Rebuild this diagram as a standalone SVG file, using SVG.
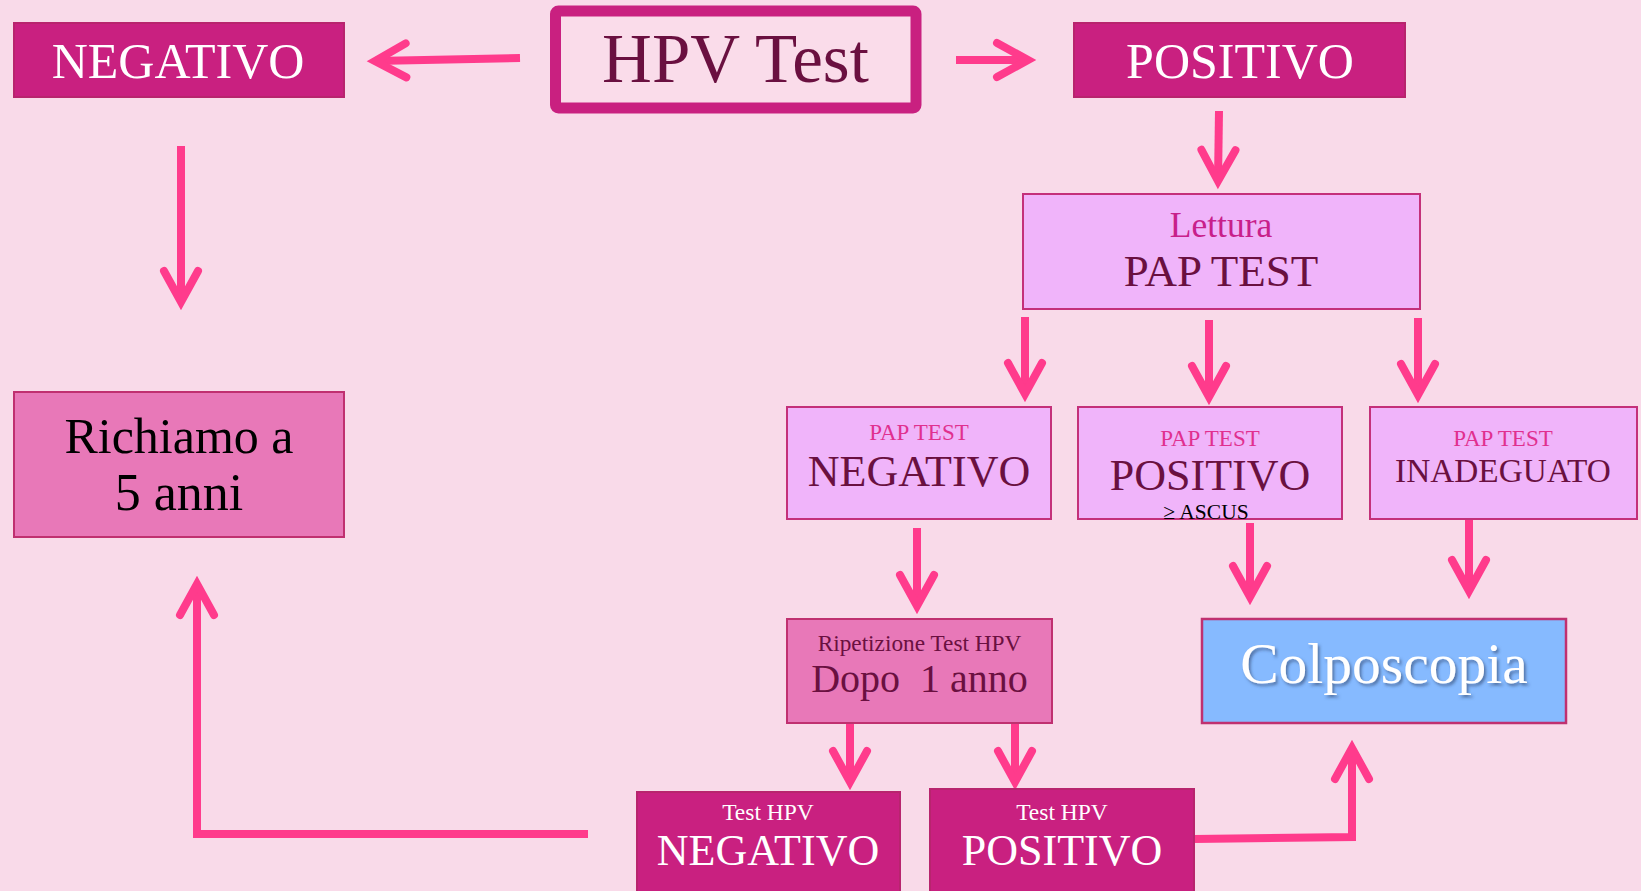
<svg xmlns="http://www.w3.org/2000/svg" width="1641" height="891" viewBox="0 0 1641 891">
<style>
text { font-family: "Liberation Serif", "Times New Roman", serif; text-anchor: middle; }
.dark { fill: #C92080; stroke: #B8246E; stroke-width: 2; }
.lilac { fill: #F0B4FA; stroke: #C4307A; stroke-width: 2; }
.rose { fill: #E878B8; stroke: #C03070; stroke-width: 2; }
.blue { fill: #86BAFF; stroke: #C03070; stroke-width: 2.5; }
.w { fill: #FFFFFF; }
.m { fill: #6A1040; }
.k { fill: #000000; }
.p1 { fill: #C8208A; }
.p2 { fill: #E0308F; }
.conn { fill: none; stroke: #FF3B8C; stroke-width: 8; marker-end: url(#ah); }
</style>
<defs>
<marker id="ah" markerUnits="userSpaceOnUse" viewBox="-40 -25 50 50" refX="0" refY="0" markerWidth="50" markerHeight="50" orient="auto" overflow="visible">
<path d="M-31,-17 L0,0 L-31,17" fill="none" stroke="#FF3B8C" stroke-width="8" stroke-linecap="round" stroke-linejoin="miter" stroke-miterlimit="10"/>
</marker>
<filter id="sh" x="-10%" y="-20%" width="130%" height="150%">
<feDropShadow dx="2" dy="2.5" stdDeviation="1.5" flood-color="#2A3A60" flood-opacity="0.55"/>
</filter>
</defs>
<rect x="0" y="0" width="1641" height="891" fill="#F9DAE9"/>

<g id="connectors">
<path class="conn" d="M520,58 L375,61"/>
<path class="conn" d="M956,60 L1028,60"/>
<path class="conn" d="M181,146 L181,302"/>
<path class="conn" d="M1219,111 L1218,181"/>
<path class="conn" d="M1025,317 L1025,394"/>
<path class="conn" d="M1209,320 L1209,397"/>
<path class="conn" d="M1418,318 L1418,395"/>
<path class="conn" d="M917,528 L917,606"/>
<path class="conn" d="M1250,523 L1250,597"/>
<path class="conn" d="M1469,515 L1469,591"/>
<path class="conn" d="M850,724 L850,782"/>
<path class="conn" d="M1015,724 L1015,782"/>
<path class="conn" d="M1194,839 L1352,837 L1352,748"/>
<path class="conn" d="M588,834 L197,834 L197,584"/>
</g>

<g id="hpv-test">
<rect x="555.5" y="11" width="360.5" height="97" rx="3" fill="#FADCEA" stroke="#C92080" stroke-width="11" stroke-linejoin="round"/>
<text x="735.5" y="82" font-size="69" class="m">HPV Test</text>
</g>

<g id="negativo">
<rect class="dark" x="14" y="23" width="330" height="74"/>
<text x="178" y="78" font-size="50" class="w">NEGATIVO</text>
</g>

<g id="positivo">
<rect class="dark" x="1074" y="23" width="331" height="74"/>
<text x="1240" y="78" font-size="50" class="w">POSITIVO</text>
</g>

<g id="richiamo">
<rect class="rose" x="14" y="392" width="330" height="145"/>
<text x="179" y="453" font-size="50" class="k">Richiamo a</text>
<text x="179" y="510" font-size="52" class="k">5 anni</text>
</g>

<g id="lettura-pap">
<rect class="lilac" x="1023" y="194" width="397" height="115"/>
<text x="1221" y="237" font-size="35.5" class="p1">Lettura</text>
<text x="1221" y="286" font-size="45" class="m">PAP TEST</text>
</g>

<g id="pap-negativo">
<rect class="lilac" x="787" y="407" width="264" height="112"/>
<text x="919" y="440" font-size="23" class="p2">PAP TEST</text>
<text x="919" y="486" font-size="44" class="m">NEGATIVO</text>
</g>

<g id="pap-positivo">
<rect class="lilac" x="1078" y="407" width="264" height="112"/>
<text x="1210" y="446" font-size="23" class="p2">PAP TEST</text>
<text x="1210" y="490" font-size="44" class="m">POSITIVO</text>
<text x="1206" y="519" font-size="21.5" class="k">≥ ASCUS</text>
</g>

<g id="pap-inadeguato">
<rect class="lilac" x="1370" y="407" width="267" height="112"/>
<text x="1503" y="446" font-size="23" class="p2">PAP TEST</text>
<text x="1503" y="482" font-size="33.3" class="m">INADEGUATO</text>
</g>

<g id="ripetizione">
<rect class="rose" x="787" y="619" width="265" height="104"/>
<text x="919.5" y="651" font-size="23.3" class="m">Ripetizione Test HPV</text>
<text x="919.5" y="692" font-size="40" class="m" xml:space="preserve">Dopo  1 anno</text>
</g>

<g id="colposcopia">
<rect class="blue" x="1202" y="619" width="364" height="104"/>
<text x="1384" y="683" font-size="57.5" class="w" filter="url(#sh)">Colposcopia</text>
</g>

<g id="test-hpv-negativo">
<rect class="dark" x="637" y="792" width="263" height="110"/>
<text x="768" y="820" font-size="23.5" class="w">Test HPV</text>
<text x="768" y="865" font-size="44" class="w">NEGATIVO</text>
</g>

<g id="test-hpv-positivo">
<rect class="dark" x="930" y="789" width="264" height="113"/>
<text x="1062" y="820" font-size="23.5" class="w">Test HPV</text>
<text x="1062" y="865" font-size="44" class="w">POSITIVO</text>
</g>
</svg>
